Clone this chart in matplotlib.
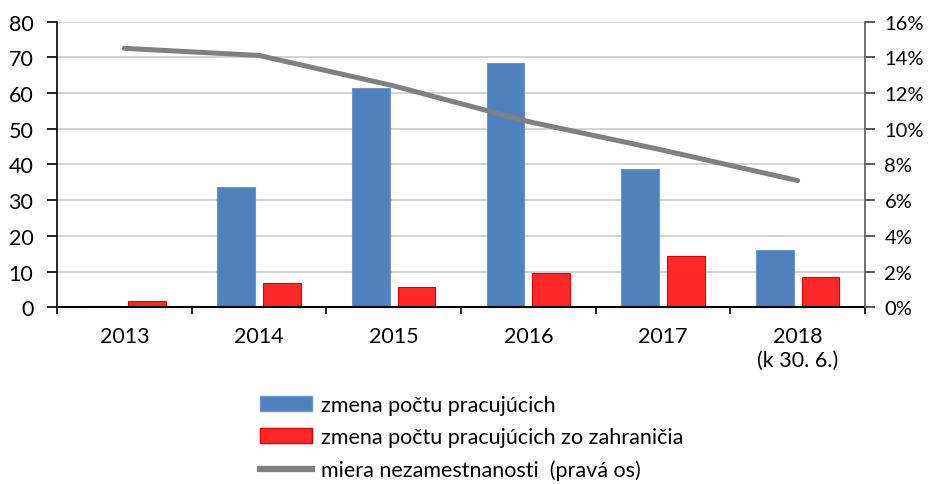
import matplotlib.pyplot as plt
import numpy as np
from matplotlib.patches import Patch
from matplotlib.lines import Line2D

years = ['2013', '2014', '2015', '2016', '2017', '2018\n(k 30. 6.)']
pracujuci = [0.4, 33.8, 61.3, 68.4, 38.7, 16.0]
zahranicie = [1.9, 6.8, 5.6, 9.6, 14.5, 8.6]
nezamestnanost = [14.5, 14.1, 12.4, 10.4, 8.8, 7.1]

plt.rcParams['font.family'] = ['Lato', 'DejaVu Sans']
fs = 15.5

fig = plt.figure(figsize=(9.29, 4.85), dpi=100)
ax = fig.add_axes([0.0614, 0.364, 0.8697, 0.5896])

x = np.arange(len(years))
w = 0.28
ax.bar(x - 0.17, pracujuci, w, color='#4F81BD', edgecolor='#6E97C9', linewidth=0.8, zorder=2)
ax.bar(x + 0.17, zahranicie, w, color='#FF2828', edgecolor='#E00000', linewidth=0.8, zorder=2)

ax.set_xlim(-0.5, len(years) - 0.5)
ax.set_ylim(0, 80)
ax.set_yticks(range(0, 81, 10))
ax.yaxis.grid(True, color='#D0D0D0', linewidth=1.3, zorder=0)
ax.set_axisbelow(True)
ax.set_xticks(np.arange(-0.5, len(years), 1))
ax.set_xticklabels([])
ax.set_xticks(x, minor=True)
ax.set_xticklabels(years, minor=True, fontsize=fs, linespacing=1.25)
ax.tick_params(axis='x', which='major', length=5, width=1.2, direction='out')
ax.tick_params(axis='x', which='minor', length=0, pad=13)
ax.tick_params(axis='y', length=7, width=1.2, labelsize=fs, pad=10)
for s in ['top', 'right']:
    ax.spines[s].set_visible(False)
ax.spines['left'].set_linewidth(1.2)
ax.spines['bottom'].set_linewidth(1.5)

ax2 = ax.twinx()
ax2.plot(x, nezamestnanost, color='#808080', linewidth=3.6, solid_capstyle='round')
ax2.set_ylim(0, 16)
ax2.set_yticks(range(0, 17, 2))
ax2.set_yticklabels([str(v) + '%' for v in range(0, 17, 2)])
ax2.tick_params(axis='y', length=7, width=1.2, labelsize=14.5, pad=7, color='#404040')
for s in ['top', 'left', 'bottom']:
    ax2.spines[s].set_visible(False)
ax2.spines['right'].set_color('#595959')
ax2.spines['right'].set_linewidth(1.2)

handles = [
    Patch(facecolor='#4F81BD', edgecolor='#6E97C9'),
    Patch(facecolor='#FF2828', edgecolor='#E00000'),
    Line2D([0], [0], color='#808080', linewidth=4.5),
]
labels = ['zmena počtu pracujúcich', 'zmena počtu pracujúcich zo zahraničia',
          'miera nezamestnanosti  (pravá os)']
fig.legend(handles, labels, loc='upper left', bbox_to_anchor=(0.280, 0.184),
           frameon=False, fontsize=fs, handlelength=2.4, handletextpad=0.45,
           labelspacing=0.58, borderaxespad=0, borderpad=0)

fig.savefig('out.png', dpi=100)
